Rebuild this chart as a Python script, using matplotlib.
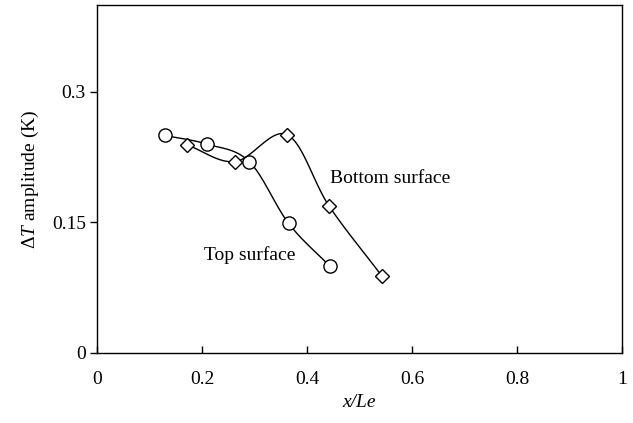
import numpy as np
import matplotlib
matplotlib.use('Agg')
import matplotlib.pyplot as plt

plt.rcParams['font.family'] = ['Liberation Serif', 'DejaVu Serif']
plt.rcParams['mathtext.fontset'] = 'custom'
plt.rcParams['mathtext.rm'] = 'Liberation Serif'
plt.rcParams['mathtext.it'] = 'Liberation Serif:italic'

# data
top_x = [0.13, 0.21, 0.29, 0.365, 0.443]
top_y = [0.25, 0.24, 0.22, 0.149, 0.10]
bot_x = [0.172, 0.263, 0.362, 0.442, 0.542]
bot_y = [0.239, 0.22, 0.251, 0.169, 0.089]

x_ticks = [0, 0.2, 0.4, 0.6, 0.8, 1]
x_labels = ['0', '0.2', '0.4', '0.6', '0.8', '1']
y_ticks = [0, 0.15, 0.3]
y_labels = ['0', '0.15', '0.3']


def smooth(xs, ys, n=30):
    # catmull-rom through the points, like a spreadsheet "smoothed line"
    p = np.column_stack([xs, ys])
    p = np.vstack([2 * p[0] - p[1], p, 2 * p[-1] - p[-2]])
    out = []
    t = np.linspace(0, 1, n)[:, None]
    for i in range(1, len(p) - 2):
        p0, p1, p2, p3 = p[i - 1], p[i], p[i + 1], p[i + 2]
        seg = 0.5 * ((2 * p1) + (-p0 + p2) * t
                     + (2 * p0 - 5 * p1 + 4 * p2 - p3) * t ** 2
                     + (-p0 + 3 * p1 - 3 * p2 + p3) * t ** 3)
        out.append(seg)
    out = np.vstack(out)
    return out[:, 0], out[:, 1]


fs = 14

fig = plt.figure(figsize=(6.33, 4.23), dpi=100)
ax = fig.add_axes([0.1532, 0.1655, 0.8294, 0.8227])

sx, sy = smooth(top_x, top_y)
ax.plot(sx, sy, color='black', linewidth=1.0)
ax.plot(top_x, top_y, linestyle='none', marker='o', markersize=9.5,
        markerfacecolor='white', markeredgecolor='black', markeredgewidth=1.0)

sx, sy = smooth(bot_x, bot_y)
ax.plot(sx, sy, color='black', linewidth=1.0)
ax.plot(bot_x, bot_y, linestyle='none', marker='D', markersize=7.5,
        markerfacecolor='white', markeredgecolor='black', markeredgewidth=1.0)

ax.text(0.291, 0.113, 'Top surface', fontsize=fs, ha='center', va='center')
ax.text(0.558, 0.201, 'Bottom surface', fontsize=fs, ha='center', va='center')

ax.set_xlim(0, 1)
ax.set_ylim(0, 0.4)
ax.set_xticks(x_ticks)
ax.set_xticklabels(x_labels)
ax.set_yticks(y_ticks)
ax.set_yticklabels(y_labels)
ax.tick_params(axis='x', direction='in', length=5, width=1, labelsize=fs, pad=13)
ax.tick_params(axis='y', direction='out', length=5, width=1, labelsize=fs, pad=3)
for s in ax.spines.values():
    s.set_linewidth(1.0)

ax.set_xlabel('x/Le', fontsize=fs, fontstyle='italic', labelpad=4)
ax.set_ylabel(r'Δ$\it{T}$ amplitude (K)', fontsize=fs, labelpad=8)

fig.savefig('out.png', dpi=100)
